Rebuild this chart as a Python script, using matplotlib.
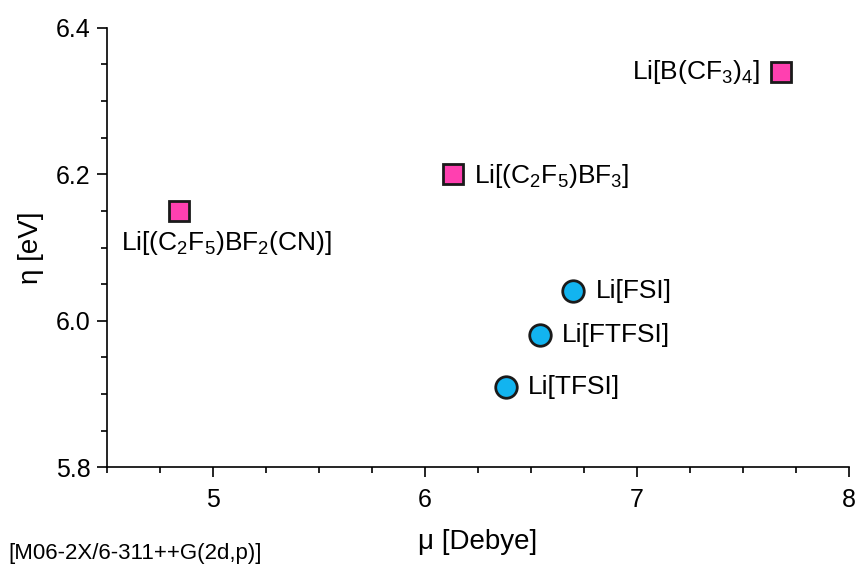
import matplotlib.pyplot as plt
from matplotlib.ticker import MultipleLocator

plt.rcParams['font.family'] = ['Liberation Sans', 'DejaVu Sans']
plt.rcParams['mathtext.default'] = 'regular'

# borate salts (squares)
sq_names = ['Li[(C$_2$F$_5$)BF$_2$(CN)]', 'Li[(C$_2$F$_5$)BF$_3$]', 'Li[B(CF$_3$)$_4$]']
sq_mu = [4.84, 6.13, 7.68]
sq_eta = [6.15, 6.20, 6.34]

# imide salts (circles)
ci_names = ['Li[FSI]', 'Li[FTFSI]', 'Li[TFSI]']
ci_mu = [6.70, 6.54, 6.38]
ci_eta = [6.04, 5.98, 5.91]

fig = plt.figure(figsize=(8.56, 5.69), dpi=100)
ax = fig.add_axes([0.125, 0.179, 0.867, 0.772])

ax.plot(sq_mu, sq_eta, 's', ms=14, mfc='#ff40b0', mec='#1a1a1a', mew=2, ls='none')
ax.plot(ci_mu, ci_eta, 'o', ms=15.5, mfc='#12b4f0', mec='#1a1a1a', mew=2, ls='none')

# label offsets in pixels
sq_off = [(-58, -32, 'left'), (21, -2, 'left'), (-21, 0, 'right')]
for name, x, y, (dx, dy, ha) in zip(sq_names, sq_mu, sq_eta, sq_off):
    ax.annotate(name, (x, y), xytext=(dx, dy), textcoords='offset pixels',
                ha=ha, va='center', fontsize=19)
for name, x, y in zip(ci_names, ci_mu, ci_eta):
    ax.annotate(name, (x, y), xytext=(22, 0), textcoords='offset pixels',
                ha='left', va='center', fontsize=19)

ax.set_xlim(4.5, 8)
ax.set_ylim(5.8, 6.4)
ax.xaxis.set_major_locator(MultipleLocator(1))
ax.xaxis.set_minor_locator(MultipleLocator(0.25))
ax.yaxis.set_minor_locator(MultipleLocator(0.05))
ax.set_yticks([5.8, 6.0, 6.2, 6.4])
ax.set_yticklabels(['5.8', '6.0', '6.2', '6.4'])
ax.tick_params(which='both', direction='out', width=1.2, labelsize=18, pad=5)
ax.tick_params(axis='x', pad=8)
ax.tick_params(which='major', length=7)
ax.tick_params(which='minor', length=4)
for s in ['top', 'right']:
    ax.spines[s].set_visible(False)
for s in ['left', 'bottom']:
    ax.spines[s].set_linewidth(1.2)

ax.set_xlabel('μ [Debye]', fontsize=20, labelpad=12)
ax.set_ylabel('η [eV]', fontsize=20, labelpad=8)

fig.text(0.01, 0.028, '[M06-2X/6-311++G(2d,p)]', fontsize=16, ha='left', va='center')

fig.savefig('out.png', dpi=100)
